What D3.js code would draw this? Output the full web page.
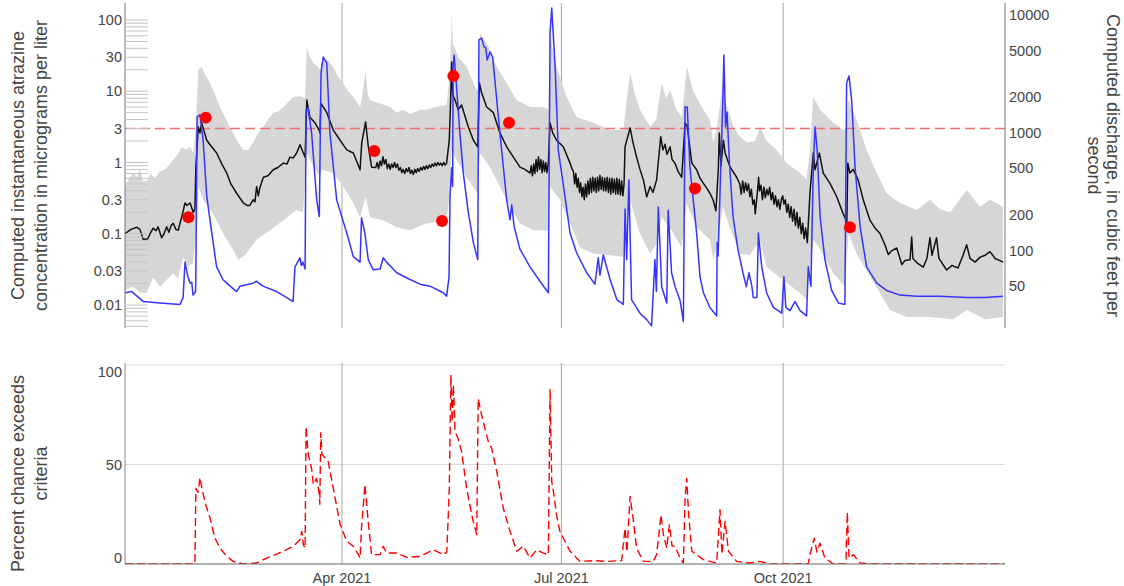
<!DOCTYPE html>
<html>
<head>
<meta charset="utf-8">
<script src="https://cdn.jsdelivr.net/npm/d3@7"></script>
<style>
  html, body { margin: 0; padding: 0; background: #fff; }
  svg { display: block; font-family: "Liberation Sans", Arial, sans-serif; }
</style>
</head>
<body>
<svg id="chart" width="1124" height="586"></svg>
<script>
// ---- Data: day offsets from 2021-01-01 ----

// Computed discharge, cubic feet per second
const discharge = [
  [0,44],[2.8,45],[7.6,37],[14.5,36],[22.8,35],[24.1,40],[24.9,80],[26.1,60],[27,53],[27.7,54],
  [28.2,42],[29.3,45],[29.6,200],[29.9,1368],[31.1,1420],[32.4,870],[33.9,290],[36,141],[38,73],
  [40.6,57],[43.6,50],[46.3,45],[47.7,50],[53.1,53],[54.6,55],[57.2,50],[62.9,45],[67.1,40],
  [69.7,37],[70.5,73],[72.6,87],[73.1,75],[73.8,80],[74.7,70],[75.1,1566],[75.9,1630],[77.4,1000],
  [79.5,270],[80.6,195],[81.3,3230],[82.2,4400],[83.7,3900],[85,1000],[87.8,270],[92,141],
  [94.7,89],[97.5,80],[98.1,190],[99.5,141],[100.9,84],[102.9,69],[105.8,70],[107.1,87],
  [108.5,80],[112.7,65],[118.2,57],[122.4,52],[126.5,50],[132,44],[133.4,41],[134.4,60],
  [134.8,290],[135.5,505],[135.9,350],[136.1,3630],[136.5,4580],[137.5,2500],[138.9,1000],
  [140.3,460],[142.4,210],[144.5,117],[146.3,84],[146.8,6140],[147.9,6380],[148.9,5360],
  [149.6,5300],[150.2,4150],[151.4,4860],[152.5,4400],[154.2,1900],[156.2,718],[158.3,270],
  [159.7,183],[160.4,245],[161.4,160],[163.8,103],[168,73],[172.1,55],[175.6,44],[176.3,7030],
  [177,11460],[178.4,3630],[179.7,718],[181.5,400],[184.6,141],[187.3,96],[191.5,65],[194.9,52],
  [196.3,87],[197,62],[198.4,92],[201.2,57],[204,38.5],[206.7,35],[207.4,226],[208.1,84],
  [209,400],[210.1,38.5],[213.6,29.5],[216.4,26],[218.4,23],[219.8,84],[220.4,45],[221.2,235],
  [222.6,49.5],[224.7,36],[225.3,220],[226.7,65],[228.1,50],[230.2,38],[231.6,25],[232.3,1660],
  [233.2,1660],[234.3,515],[237.1,141],[238.5,60],[239.9,44],[242.6,33],[245.4,28],[245.6,117],
  [246,90],[248,2000],[248.4,4580],[249.1,1120],[249.7,1500],[250.8,515],[252.2,195],[254.2,103],
  [256.3,65],[257.7,49.5],[258.8,65],[260,50],[260.6,40],[262.1,40],[262.7,141],[264.1,73],
  [266.1,44],[268.9,33],[272.4,29.5],[273.3,60],[274.1,33],[275.8,31],[277.9,37],[280,31],
  [282.7,28],[283.4,73],[284.5,50],[285.5,515],[286.2,1120],[287.1,718],[288.3,195],[290.3,84],
  [293.1,46],[295.9,36],[298.6,35],[299.3,2650],[300.3,3040],[301.4,1900],[302.8,515],[304.9,160],
  [307.6,73],[311.8,53],[315.9,46],[321.4,42],[328.4,41],[338,41],[349.1,40],[356.7,40],[364.2,41]
];

// Computed instantaneous atrazine concentration, micrograms per liter
const concentration = [
  [0,0.10],[2.5,0.115],[4.9,0.123],[6.2,0.115],[7.6,0.083],[9.5,0.085],[10.4,0.1],[11.7,0.12],
  [12.9,0.11],[13.7,0.125],[15.2,0.088],[16.2,0.1],[17.3,0.125],[18.2,0.105],[19.1,0.13],[20,0.14],
  [21.1,0.115],[22.1,0.113],[22.8,0.14],[23.5,0.17],[24.9,0.27],[25.7,0.25],[27,0.27],[28.3,0.2],
  [29,0.22],[29.4,0.86],[30.4,3.15],[31.1,2.6],[31.8,3.6],[33.9,2.05],[35.7,1.7],[38,1.36],
  [40.2,0.95],[42.2,0.71],[43.9,0.5],[46.3,0.37],[49.1,0.27],[50.6,0.25],[51.8,0.25],[53.2,0.3],
  [53.9,0.28],[54.6,0.46],[55.3,0.34],[56,0.45],[57.4,0.62],[59.3,0.65],[61.5,0.79],[63.4,0.85],
  [65.7,0.98],[67.2,0.95],[68.4,1.19],[69.7,1.15],[71.2,1.36],[72.6,1.77],[73.8,1.4],[74.7,1.19],
  [75.4,7.5],[76.7,4.3],[78.8,3.6],[80.5,2.85],[80.9,2.6],[81.2,6.8],[83.7,5.0],[86.4,2.85],
  [89.2,2.05],[92,1.5],[94.7,1.36],[96.3,1.0],[97.5,0.79],[98.2,1.9],[99.8,3.7],[100.8,1.8],
  [102.3,0.86],[104,0.85],[104.6,1.0],[105.2,0.82],[105.8,1.05],[106.4,0.9],[107,1.2],[107.6,0.95],
  [108.2,1.1],[108.8,0.82],[109.4,0.95],[110,0.8],[110.6,0.95],[111.2,0.85],[111.8,1.0],[112.4,0.85],
  [113,0.95],[113.6,0.78],[114.2,0.85],[114.8,0.72],[115.4,0.8],[116,0.7],[116.6,0.82],[117.2,0.74],
  [117.8,0.85],[118.4,0.7],[119,0.78],[119.6,0.68],[120.2,0.8],[120.8,0.72],[121.4,0.82],[122,0.75],
  [122.6,0.85],[123.2,0.78],[123.8,0.88],[124.4,0.8],[125,0.9],[125.6,0.82],[126.2,0.92],[126.8,0.85],
  [127.4,0.95],[128,0.88],[128.6,0.98],[129.2,0.9],[129.8,1.0],[130.4,0.92],[131,0.98],[131.6,0.9],
  [132.2,1.0],[132.8,0.92],[133.4,0.98],[134.5,2.05],[135.1,8.3],[135.5,25.7],[135.9,9],
  [136.9,7.5],[138.2,5.5],[139.6,6.4],[141,4.5],[142.4,3.15],[144.5,2.05],[146.3,1.66],[147,13],
  [147.9,9.5],[150,6.0],[152.8,5.0],[155.5,2.6],[158.3,1.66],[161.1,1.19],[163.8,0.86],[165.9,0.8],
  [168,0.71],[168.5,0.9],[169,0.65],[169.5,0.95],[170,0.7],[170.5,1.1],[171,0.75],[171.5,1.2],
  [172,0.8],[172.5,1.1],[173,0.72],[173.5,1.05],[174,0.75],[174.5,1.0],[175,0.72],[175.6,1.0],
  [176.3,3.6],[177.4,2.6],[179,2.05],[181.8,1.66],[184.6,0.98],[185.5,0.8],[186,0.75],[186.5,0.5],
  [187,0.7],[187.5,0.45],[188,0.6],[188.5,0.38],[189,0.52],[189.5,0.33],[190,0.45],[190.5,0.3],
  [191,0.5],[191.5,0.33],[192,0.55],[192.5,0.36],[193,0.6],[193.5,0.38],[194,0.62],[194.5,0.4],
  [195,0.6],[195.5,0.38],[196,0.62],[196.5,0.4],[197,0.66],[197.5,0.42],[198,0.62],[198.5,0.4],
  [199,0.6],[199.5,0.4],[200,0.62],[200.5,0.38],[201,0.6],[201.5,0.36],[202,0.6],[202.5,0.38],
  [203,0.58],[203.5,0.36],[204,0.6],[204.5,0.36],[205,0.58],[205.5,0.35],[206,0.55],[206.5,0.34],
  [207,0.5],[207.4,1.66],
  [209.5,3.05],[210.7,1.9],[212.2,1.19],[213.6,0.8],[215,0.57],[216.4,0.33],[217.8,0.46],
  [219,0.38],[220.5,0.57],[222.2,2.3],[223.1,1.5],[224,1.8],[224.8,1.3],[226.1,1.66],[226.9,1.1],
  [228.1,0.98],[229.4,0.75],[230.9,0.62],[232.3,3.6],[233.2,3.2],[235.1,0.98],[237.1,0.79],
  [238.5,0.6],[239.9,0.51],[241,0.45],[242.6,0.37],[243.9,0.3],[245.1,0.21],[246.1,0.8],
  [246.5,2.6],[247.2,0.9],[248.2,2.05],[248.9,1.36],[251,0.86],[253.7,0.62],[255,0.5],[255.6,0.36],
  [256.2,0.55],[256.8,0.38],[257.4,0.52],[258,0.4],[258.6,0.5],[259.2,0.33],[259.8,0.42],[260.4,0.26],
  [261,0.3],[261.4,0.19],[262,0.3],[262.5,0.45],[262.8,0.62],[263.2,0.4],[263.8,0.48],[264.4,0.3],
  [265,0.45],[265.6,0.32],[266.2,0.42],[266.8,0.35],[267.4,0.45],[268,0.3],[268.6,0.38],[269.2,0.26],
  [269.8,0.34],[270.4,0.24],[271,0.3],[271.6,0.22],[272.2,0.3],[272.8,0.34],[273.3,0.26],[273.9,0.3],
  [274.5,0.2],[275.1,0.26],[275.7,0.17],[276.3,0.24],[276.9,0.15],[277.5,0.22],[278.1,0.13],
  [278.7,0.2],[279.3,0.12],[279.9,0.17],[280.5,0.1],[281.1,0.14],[281.7,0.085],[282.3,0.12],
  [283,0.075],[284.1,0.37],[285.5,1.36],
  [286.2,0.79],[288,1.36],[289.6,0.71],[292.4,0.51],[295.2,0.33],[297.9,0.19],[299.4,0.146],
  [299.8,0.98],[300.7,0.71],[302,0.8],[304.1,0.57],[306.2,0.3],[309,0.155],[311.1,0.12],
  [313.2,0.1],[315.2,0.07],[316.6,0.051],[318.1,0.058],[320.1,0.063],[322.2,0.037],[323.5,0.042],
  [325.6,0.043],[326.3,0.09],[326.8,0.045],[328.9,0.038],[331.1,0.034],[332.6,0.045],[333.9,0.088],
  [334.7,0.05],[336.6,0.088],[337.6,0.045],[340.8,0.031],[343,0.036],[345.5,0.033],[347.6,0.05],
  [349.1,0.07],[350.5,0.045],[352.6,0.04],[354.7,0.047],[356.8,0.05],[358.8,0.056],[360.9,0.045],
  [362.9,0.042],[364.2,0.04]
];

// Upper edge of the concentration interval
const intervalUpper = [
  [0,0.46],[1.7,0.6],[3.4,0.71],[5,0.62],[6.2,0.79],[7.5,0.55],[9,0.55],[10.4,0.7],[12.4,0.6],
  [14.5,0.75],[16.6,0.8],[18.7,0.95],[20,1.1],[22,1.3],[23.5,1.66],[25.3,1.5],[27,1.66],[28.3,1.36],
  [29.4,3],[30.4,20],[31.8,22],[33.2,17],[35.3,13],[37.3,9],[39.4,6.0],[41.9,4],[44.9,2.6],
  [46.9,1.9],[49.1,1.5],[51,1.5],[53.2,1.9],[55.2,2.6],[57.4,3.15],[59.3,4],[61.5,5.0],[63.5,5.2],
  [65.7,6.0],[67.6,7],[69.8,8.3],[72.6,8.5],[74.7,8],[75.4,41.7],[76.7,30],[78.1,24.9],[80,22],
  [80.9,20],[82.2,30],[84.2,27],[86.4,22],[88.4,16],[90.5,13],[92.5,10],[94.7,8.3],[97.5,6],
  [98.3,8],[99.8,20],[100.7,9],[101.6,7.5],[104.1,7],[107.1,6.5],[109.9,6],[112.7,5],[115.3,5.5],
  [118.2,4.8],[122.4,5.5],[125.1,5.5],[128.9,6],[133.4,6.4],[134.5,15],[135.1,38],[135.5,125],
  [136,45],[136.9,40],[138.2,30],[141.7,22],[145.2,11.5],[146.4,10],[147.2,65.7],[148.5,55],
  [150,47.6],[151.8,35],[154.2,22],[158.3,13],[162.4,7.5],[168,6],[173.5,6],[175.6,5.5],
  [176.3,65.7],[177.5,35],[179,22],[183.2,8.3],[187.3,4.3],[194.2,3.6],[201.2,2.85],[206.7,2.9],
  [207.8,6],[209.5,18.1],[211.5,9],[213.6,5.5],[217.8,3.15],[220.3,4],[222.6,13],[224.4,8],
  [226.1,10.4],[228.8,5.5],[231,4.3],[233,22],[235.7,10],[239.9,5.5],[242.6,4.0],[244,1.9],
  [245.5,3],[248,13],[248.9,7.5],[252.3,3.2],[255.1,2.3],[257.9,1.9],[261.3,2],[263.4,3.15],
  [266.1,2],[270.3,1.5],[274.4,0.98],[280,0.71],[282.7,0.57],[284.1,1.5],[285.5,8.3],[288.3,5.5],
  [293.8,3.6],[298,2.85],[299.1,3],[300.1,7.5],[303.4,4.0],[307.6,1.5],[311.8,0.71],[315.9,0.37],
  [321.4,0.27],[328.4,0.215],[333.9,0.3],[338,0.22],[342.3,0.2],[349.1,0.41],[354.6,0.24],
  [358.8,0.3],[364.2,0.24]
];

// Lower edge of the concentration interval
const intervalLower = [
  [0,0.016],[3.3,0.018],[6.2,0.015],[9,0.0147],[11.7,0.0245],[14.5,0.018],[17,0.022],[20,0.028],
  [22,0.024],[24.2,0.047],[26.1,0.035],[28.3,0.039],[29.4,0.1],[30.4,0.46],[32.4,0.3],[36.6,0.19],
  [40.8,0.1],[44.9,0.059],[47,0.043],[49.8,0.05],[54.6,0.083],[60.1,0.112],[65.7,0.155],
  [71.2,0.215],[73.8,0.2],[75.4,1.36],[78,0.9],[80.9,0.62],[81.7,0.8],[86.4,0.71],[90.5,0.46],
  [94.7,0.27],[97.5,0.17],[99.8,0.33],[101.6,0.17],[107.1,0.155],[112.7,0.123],[118.2,0.112],
  [125.1,0.14],[133.4,0.155],[134.4,0.3],[135.5,1.5],[137.5,1.1],[141.7,0.62],[146.2,0.37],
  [147.2,1.36],[151.4,0.86],[155.5,0.46],[159.7,0.24],[163.8,0.14],[169.3,0.112],[175.4,0.11],
  [176.3,0.46],[180.4,0.3],[184.6,0.14],[188.7,0.064],[194.2,0.053],[201.2,0.05],[206.7,0.047],
  [207.8,0.1],[209.5,0.3],[213.6,0.1],[217.8,0.053],[220.3,0.07],[222.6,0.17],[226.1,0.12],
  [230.8,0.064],[233,0.27],[237.1,0.123],[242.6,0.083],[244,0.043],[245.9,0.08],[248,0.24],
  [250.8,0.123],[255.1,0.053],[259.2,0.05],[263.4,0.083],[266.1,0.034],[273,0.0225],[280,0.0147],
  [282.7,0.0118],[284.1,0.03],[285.5,0.083],[288.3,0.06],[293.8,0.028],[298.6,0.018],[300.1,0.1],
  [303.4,0.053],[309,0.025],[313.2,0.0147],[317.3,0.0085],[324.2,0.0068],[333.9,0.0068],
  [343.6,0.0063],[349.1,0.0085],[356.7,0.0063],[364.2,0.0068]
];

// Measured samples, micrograms per liter
const samples = [
  [26.3,0.17],[33.5,4.26],[103.4,1.45],[131.5,0.151],[136.2,16.4],[159.3,3.62],[236.4,0.43],[300.7,0.123]
];

// Water-quality criterion, micrograms per liter
const criterion = 3;

// Percent chance the concentration exceeds the criterion
const exceedance = [
  [0,0],[29,0],[29.4,38],[30.3,36],[31.1,43.5],[31.9,38],[33.2,31],[35.3,23],[37.3,13],[39.4,8],
  [42.2,3.8],[44.9,1.3],[49.1,0],[54.6,0.5],[58.8,3],[62.9,5],[67.1,7.2],[69.8,8.9],[72.6,12.2],
  [73.3,16.4],[74,9.7],[74.7,8],[75.1,69],[76,55],[77.4,48],[78.1,40],[79.5,43],[80.6,35],[80.8,30],
  [81.2,66],[81.7,55],[84.3,51.5],[86.4,38],[89.2,20],[92,11.4],[94.7,8.9],[96.8,4.7],[97.5,3],
  [98.1,18],[99.5,40],[100.9,21],[102.3,4.7],[105.8,4.7],[107.1,8.9],[108.5,5.5],[112.7,5.5],
  [116.8,3.3],[122.4,3.8],[127.9,7.2],[132,4.7],[133.5,6],[134.5,38],[135.2,95],[135.7,71.6],
  [136.2,90],[136.9,66.5],[138.2,63],[139.6,56.5],[141.7,38],[143.8,24.7],[145.2,18],[145.9,14.7],
  [146.5,83],[147.9,75],[149.3,68],[150.7,61.5],[152.1,58],[154.2,46.5],[156.9,28],[159.7,16.4],
  [162.5,6.4],[165.2,8.9],[168,3],[170.8,7.2],[173.5,5.5],[175.6,4.7],[176.3,88],[177,41.5],
  [177.7,36.5],[179,24.7],[180.4,16.4],[181.8,13],[184.6,6.4],[188.7,1.3],[194.2,1.7],[199.9,1.3],
  [206,1.7],[207.4,18],[208.2,6],[209.5,34],[210.9,21.4],[212.2,8],[215,1.3],[219.1,1.3],
  [220.5,4.7],[222.3,24.7],[223.3,14.7],[224.7,8],[225.8,19.7],[226.9,9],[228.1,9],[230.2,3],
  [231.6,0.5],[232.3,33],[233,43],[233.7,26.4],[235.1,6.4],[237.1,4.7],[239.9,2.2],[245.4,0.5],
  [246.8,27.3],[247.6,5],[248.9,21.4],[250.3,6.4],[253.7,1.3],[259.2,0.5],[263.4,1.3],[267.5,0],
  [283.4,0],[284.1,4.7],[285.9,13],[287,6],[288.3,10.5],[290.3,3],[293.8,0],[299,0],[299.6,26],
  [300.3,3],[302.1,4.7],[304.9,0.5],[309,0],[365,0]
];

// Axis ticks
const dateTicks = ["2021-04-01", "2021-07-01", "2021-10-01"];
const concTicks = [0.01, 0.03, 0.1, 0.3, 1, 3, 10, 30, 100];
const flowTicks = [50, 100, 200, 500, 1000, 2000, 5000, 10000];
const pctTicks = [0, 50, 100];

// ---- Layout ----
const svg = d3.select("#chart");
const plotLeft = 125, plotRight = 1005;
const topY0 = 3, topY1 = 328;
const botY0 = 363, botY1 = 564;
const textColor = "#444";
const tickFont = "14.5px";
const titleFont = "18px";

const startMs = Date.UTC(2021, 0, 1);
const toDate = d => new Date(startMs + d * 864e5);

const x = d3.scaleUtc()
  .domain([new Date(Date.UTC(2021, 0, 1)), new Date(Date.UTC(2022, 0, 1))])
  .range([plotLeft, plotRight]);
const yConc = d3.scaleLog().domain([0.004755, 173]).range([topY1, topY0]);
const yFlow = d3.scaleLog().domain([22.08, 12640]).range([topY1, topY0]);
const yPct = d3.scaleLinear().domain([0, 101]).range([botY1, botY0]);

const tickDates = dateTicks.map(s => new Date(s + "T00:00:00Z"));

const defs = svg.append("defs");
defs.append("clipPath").attr("id", "clipTop")
  .append("rect").attr("x", plotLeft).attr("y", topY0).attr("width", plotRight - plotLeft).attr("height", topY1 - topY0);
defs.append("clipPath").attr("id", "clipBot")
  .append("rect").attr("x", plotLeft).attr("y", botY0 - 2).attr("width", plotRight - plotLeft).attr("height", botY1 - botY0 + 2);

// ---- Upper panel ----
const upper = svg.append("g");

// vertical date grid
upper.append("g").selectAll("line").data(tickDates).join("line")
  .attr("x1", d => x(d)).attr("x2", d => x(d))
  .attr("y1", topY0).attr("y2", topY1)
  .attr("stroke", "#a8a8a8").attr("stroke-width", 1);

const upperPlot = upper.append("g").attr("clip-path", "url(#clipTop)");

// interval band
const bandPts = intervalUpper.map(d => [x(toDate(d[0])), yConc(d[1])])
  .concat(intervalLower.slice().reverse().map(d => [x(toDate(d[0])), yConc(d[1])]));
upperPlot.append("path")
  .attr("d", d3.line()(bandPts) + "Z")
  .attr("fill", "#d6d6d6").attr("stroke", "none");

// minor log ticks along the concentration axis
const minorVals = [];
for (let e = -3; e <= 2; e++) {
  for (let k = 1; k <= 9; k++) {
    const v = k * Math.pow(10, e);
    if (v >= yConc.domain()[0] && v <= yConc.domain()[1]) minorVals.push(v);
  }
}
upper.append("g").selectAll("line").data(minorVals).join("line")
  .attr("x1", plotLeft + 1).attr("x2", plotLeft + 23)
  .attr("y1", d => yConc(d)).attr("y2", d => yConc(d))
  .attr("stroke", "#c4c4c4").attr("stroke-width", 1);

// criterion line
upperPlot.append("line")
  .attr("x1", plotLeft).attr("x2", plotRight)
  .attr("y1", yConc(criterion)).attr("y2", yConc(criterion))
  .attr("stroke", "#ef7272").attr("stroke-width", 1.4)
  .attr("stroke-dasharray", "10,5");

// concentration line
upperPlot.append("path")
  .datum(concentration)
  .attr("d", d3.line().x(d => x(toDate(d[0]))).y(d => yConc(d[1])))
  .attr("fill", "none").attr("stroke", "#111").attr("stroke-width", 1.5)
  .attr("stroke-linejoin", "round");

// discharge line
upperPlot.append("path")
  .datum(discharge)
  .attr("d", d3.line().x(d => x(toDate(d[0]))).y(d => yFlow(d[1])))
  .attr("fill", "none").attr("stroke", "#3535ff").attr("stroke-width", 1.5)
  .attr("stroke-linejoin", "round");

// samples
upperPlot.append("g").selectAll("circle").data(samples).join("circle")
  .attr("cx", d => x(toDate(d[0]))).attr("cy", d => yConc(d[1]))
  .attr("r", 6).attr("fill", "#ff0000");

// axis lines
upper.append("line").attr("x1", plotLeft).attr("x2", plotLeft).attr("y1", topY0).attr("y2", topY1)
  .attr("stroke", "#777").attr("stroke-width", 1);
upper.append("line").attr("x1", plotRight).attr("x2", plotRight).attr("y1", topY0).attr("y2", topY1)
  .attr("stroke", "#777").attr("stroke-width", 1);

// left tick labels
upper.append("g").selectAll("text").data(concTicks).join("text")
  .attr("x", plotLeft - 3).attr("y", d => yConc(d)).attr("dy", "0.35em")
  .attr("text-anchor", "end").attr("fill", textColor).style("font-size", tickFont)
  .text(d => String(d));

// right tick labels
upper.append("g").selectAll("text").data(flowTicks).join("text")
  .attr("x", plotRight + 4).attr("y", d => yFlow(d)).attr("dy", "0.35em")
  .attr("text-anchor", "start").attr("fill", textColor).style("font-size", tickFont)
  .text(d => String(d));

// axis titles
const midTop = (topY0 + topY1) / 2;
const leftTitle = upper.append("text")
  .attr("transform", `translate(0,${midTop}) rotate(-90)`)
  .attr("text-anchor", "middle").attr("fill", textColor).style("font-size", titleFont);
leftTitle.append("tspan").attr("x", 0).attr("y", 24).text("Computed instantaneous atrazine");
leftTitle.append("tspan").attr("x", 0).attr("y", 47).text("concentration in micrograms per liter");

const rightTitle = upper.append("text")
  .attr("transform", `translate(0,${midTop}) rotate(90)`)
  .attr("text-anchor", "middle").attr("fill", textColor).style("font-size", titleFont);
rightTitle.append("tspan").attr("x", 0).attr("y", -1107).text("Computed discharge, in cubic feet per");
rightTitle.append("tspan").attr("x", 0).attr("y", -1088).text("second");

// ---- Lower panel ----
const lower = svg.append("g");

// horizontal grid
lower.append("g").selectAll("line").data(pctTicks.filter(d => d > 0)).join("line")
  .attr("x1", plotLeft).attr("x2", plotRight)
  .attr("y1", d => yPct(d)).attr("y2", d => yPct(d))
  .attr("stroke", "#dcdcdc").attr("stroke-width", 1.2);

// vertical date grid
lower.append("g").selectAll("line").data(tickDates).join("line")
  .attr("x1", d => x(d)).attr("x2", d => x(d))
  .attr("y1", botY0).attr("y2", botY1)
  .attr("stroke", "#a8a8a8").attr("stroke-width", 1);

// exceedance line
lower.append("g").attr("clip-path", "url(#clipBot)").append("path")
  .datum(exceedance)
  .attr("d", d3.line().x(d => x(toDate(d[0]))).y(d => yPct(d[1])))
  .attr("fill", "none").attr("stroke", "#ff0000").attr("stroke-width", 1.4)
  .attr("stroke-dasharray", "8,4").attr("stroke-linejoin", "round");

// axis lines
lower.append("line").attr("x1", plotLeft).attr("x2", plotLeft).attr("y1", botY0).attr("y2", botY1)
  .attr("stroke", "#888").attr("stroke-width", 1);
lower.append("line").attr("x1", plotLeft).attr("x2", plotRight).attr("y1", botY1).attr("y2", botY1)
  .attr("stroke", "#666").attr("stroke-width", 1.2);

// y tick labels (end labels tucked inside the panel)
const edgeShift = d => (d === 0 ? -6 : d === 100 ? 7 : 0);
lower.append("g").selectAll("text").data(pctTicks).join("text")
  .attr("x", plotLeft - 3).attr("y", d => yPct(d) + edgeShift(d)).attr("dy", "0.35em")
  .attr("text-anchor", "end").attr("fill", textColor).style("font-size", tickFont)
  .text(d => String(d));

// date tick labels
const fmt = d3.utcFormat("%b %Y");
lower.append("g").selectAll("text").data(tickDates).join("text")
  .attr("x", d => x(d)).attr("y", 578).attr("dy", "0.35em")
  .attr("text-anchor", "middle").attr("fill", textColor).style("font-size", tickFont)
  .text(d => fmt(d));

// y title
const midBot = (botY0 + botY1) / 2 + 10;
const botTitle = lower.append("text")
  .attr("transform", `translate(0,${midBot}) rotate(-90)`)
  .attr("text-anchor", "middle").attr("fill", textColor).style("font-size", titleFont);
botTitle.append("tspan").attr("x", 0).attr("y", 24).text("Percent chance exceeds");
botTitle.append("tspan").attr("x", 0).attr("y", 47).text("criteria");
</script>
</body>
</html>
